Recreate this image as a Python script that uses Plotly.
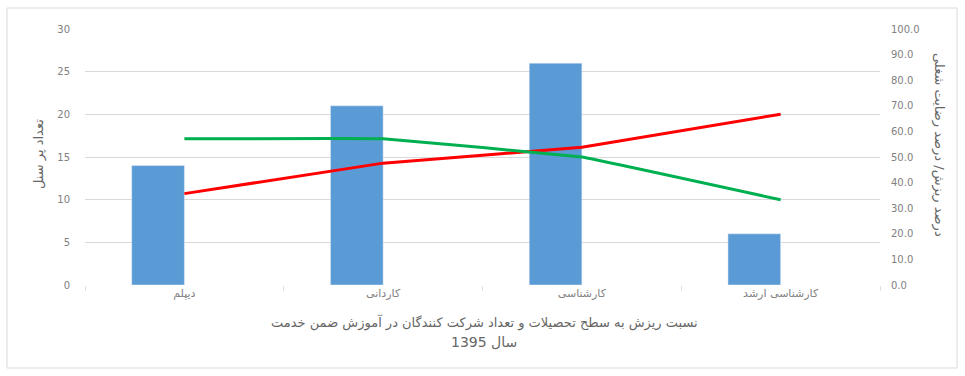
import plotly.graph_objects as go

categories = ["دیپلم", "کاردانی", "کارشناسی", "کارشناسی ارشد"]
staff_count = [14, 21, 26, 6]
attrition_pct = [35.7, 47.6, 53.8, 66.7]
satisfaction_pct = [57.1, 57.1, 50.0, 33.3]

left_ticks = [0, 5, 10, 15, 20, 25, 30]
right_ticks = [0, 10, 20, 30, 40, 50, 60, 70, 80, 90, 100]

W, H = 965, 376
L, R, T, B = 85, 85, 29, 91
pw, ph = W - L - R, H - T - B

def px(x):
    return (x - L) / pw

def py(y):
    return (H - B - y) / ph

FONT = "DejaVu Sans, Arial, sans-serif"
TICK = "#7f7f7f"
TITLE = "#666666"

fig = go.Figure()
fig.add_trace(go.Bar(
    x=categories, y=staff_count, marker_color="#5B9BD5",
    width=0.265, offset=-0.265, yaxis="y", showlegend=False,
))
fig.add_trace(go.Scatter(
    x=categories, y=attrition_pct, mode="lines", yaxis="y2",
    line=dict(color="#FF0000", width=3, shape="spline", smoothing=0.15),
    showlegend=False,
))
fig.add_trace(go.Scatter(
    x=categories, y=satisfaction_pct, mode="lines", yaxis="y2",
    line=dict(color="#00B050", width=3, shape="spline", smoothing=0.15),
    showlegend=False,
))

fig.update_layout(
    width=W, height=H,
    margin=dict(l=L, r=R, t=T, b=B),
    paper_bgcolor="white", plot_bgcolor="white",
    font=dict(family=FONT, size=10, color=TICK),
    xaxis=dict(
        type="category", range=[-0.5, 3.5],
        showgrid=False, showline=False, zeroline=False,
        ticks="outside", tickson="boundaries", ticklen=5, tickcolor="#e0e0e0",
        tickfont=dict(size=11, color=TICK),
    ),
    yaxis=dict(
        range=[0, 30], tickvals=left_ticks, showgrid=True, gridcolor="#d9d9d9",
        zeroline=False, showline=False, tickfont=dict(size=10, color=TICK),
        ticklabelstandoff=14,
    ),
    yaxis2=dict(
        range=[0, 100], tickvals=right_ticks, tickformat=".1f", overlaying="y",
        side="right", showgrid=False, zeroline=False, showline=False,
        tickfont=dict(size=10, color=TICK), ticklabelstandoff=10,
    ),
    bargap=0.47,
)

annotations = [
    dict(text="نسبت ریزش به سطح تحصیلات و تعداد شرکت کنندگان در آموزش ضمن خدمت",
         x=px(484), y=py(322), font=dict(size=13, color=TITLE)),
    dict(text="سال 1395", x=px(484), y=py(342), font=dict(size=14, color=TITLE)),
    dict(text="تعداد پر سنل", x=px(39), y=py(154), textangle=-90,
         font=dict(size=13, color=TITLE)),
    dict(text="درصد ریزش/ درصد رضایت شغلی", x=px(939), y=py(145), textangle=90,
         font=dict(size=13, color=TITLE)),
]
for a in annotations:
    a.update(xref="paper", yref="paper", showarrow=False, xanchor="center", yanchor="middle")
fig.update_layout(annotations=annotations)

fig.add_shape(type="rect", xref="paper", yref="paper",
              x0=px(7), x1=px(957), y0=py(368), y1=py(8),
              line=dict(color="#d9d9d9", width=1), fillcolor="rgba(0,0,0,0)", layer="below")

fig.write_html("out.html")
